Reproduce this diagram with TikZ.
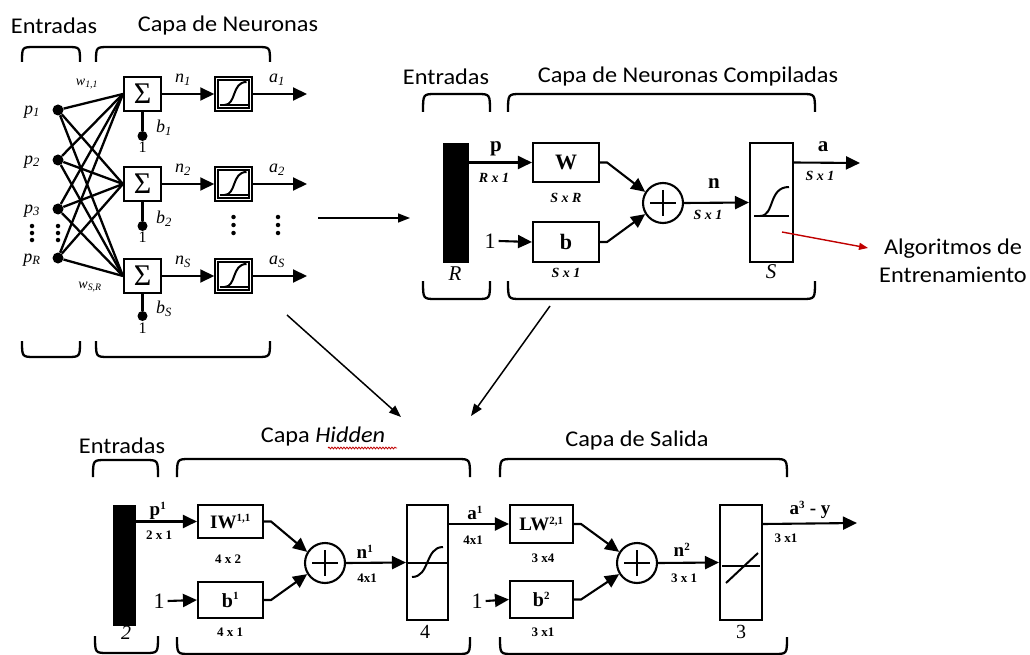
\documentclass[tikz,border=0pt]{standalone}
\usepackage{fontspec}
\setmainfont{Carlito}
\newfontfamily\tms{Liberation Serif}
\newfontfamily\lblf[FakeStretch=1.08]{Carlito}
\usetikzlibrary{arrows.meta,decorations.pathmorphing}
\definecolor{arrred}{RGB}{192,0,0}
\newcommand\brkt[4]{\draw[brk] (#1,#4) .. controls (#1,#3) .. (#1+13,#3) -- (#2-13,#3) .. controls (#2,#3) .. (#2,#4);}
\begin{document}
\begin{tikzpicture}[x=1pt,y=-1pt,
  lbl/.style={font=\lblf\fontsize{22.5}{27}\selectfont, inner sep=0pt},
  box/.style={draw, line width=2.1pt, inner sep=0pt, fill=white},
  tbox/.style={draw, line width=1.5pt, inner sep=0pt, minimum width=37pt, minimum height=34pt},
  sbox/.style={box, minimum width=37pt, minimum height=34pt, font=\tms\fontsize{30}{30}\selectfont},
  wire/.style={line width=2.3pt},
  ln/.style={line width=2.1pt},
  arr/.style={line width=2.1pt, -{Triangle[length=14pt,width=13pt]}},
  thinarr/.style={line width=1.5pt, -{Triangle[length=12pt,width=9pt]}},
  brk/.style={line width=2.3pt},
  dot/.style={circle, fill, inner sep=0pt, minimum size=11pt},
  bdot/.style={circle, fill, inner sep=0pt, minimum size=10pt},
  vdot/.style={circle, fill, inner sep=0pt, minimum size=4.5pt},
  sym/.style={font=\tms\itshape\fontsize{18}{20}\selectfont, inner sep=0pt},
  vec/.style={font=\tms\bfseries\fontsize{21}{21}\selectfont, inner sep=0pt},
  one/.style={font=\tms\fontsize{22}{22}\selectfont, inner sep=0pt},
  dimi/.style={font=\tms\bfseries\itshape\fontsize{14}{15}\selectfont, inner sep=0pt},
  dimb/.style={font=\tms\bfseries\fontsize{13}{14}\selectfont, inner sep=0pt},
  bar/.style={fill=black, draw=black, inner sep=0pt},
  circ/.style={circle, draw, line width=2.1pt, minimum size=40pt, inner sep=0pt},
  crv/.style={line width=2pt},
  sigsmall/.pic={\draw[line width=1.2pt] (-15.5,-14) rectangle (15.5,14);
                 \draw[crv] (-14,11) -- (15,11);
                 \draw[crv] (-9,11) .. controls (3,11) and (-2,-12) .. (13,-12);},
  plus/.pic={\draw[line width=1.8pt] (-13,0) -- (13,0) (0,-13) -- (0,13);}
]
\useasboundingbox (0,0) rectangle (1030,655);

% ================= top-left =================
\node[lbl] (tlE) at (54,26) {Entradas};
\node[lbl] (tlC) at (228,26) {Capa de Neuronas};
\brkt{22}{80}{47}{62}
\brkt{96}{270}{47}{62}
\brkt{22}{80}{357}{341}
\brkt{96}{270}{357}{341}

\node[dot] (p1) at (58,110) {};
\node[dot] (p2) at (58,160) {};
\node[dot] (p3) at (58,209) {};
\node[dot] (pR) at (58,258) {};
\node[sym] (lp1) at (32,112) {p\textsubscript{1}};
\node[sym] (lp2) at (32,162) {p\textsubscript{2}};
\node[sym] (lp3) at (32,211) {p\textsubscript{3}};
\node[sym] (lpR) at (32,260) {p\textsubscript{R}};
\foreach \y in {226,233,240} {
  \node[vdot] (va\y) at (32,\y) {};
  \node[vdot] (vb\y) at (58,\y) {};
}

\node[sbox] (s1) at (142.5,94) {Σ};
\node[sbox] (s2) at (142.5,184) {Σ};
\node[sbox] (s3) at (142.5,276) {Σ};

\foreach \p in {p1,p2,p3,pR} {
  \foreach \s in {s1,s2,s3} {
    \draw[wire] (\p) -- (\s.west);
  }
}
\node[sym, font=\tms\itshape\fontsize{14}{15}\selectfont] (w11) at (87,84) {w\textsubscript{1,1}};
\node[sym, font=\tms\itshape\fontsize{14}{15}\selectfont] (wSR) at (90,287) {w\textsubscript{S,R}};

\node[bdot] (bd1) at (142.5,136) {};
\node[bdot] (bd2) at (142.5,226) {};
\node[bdot] (bd3) at (142.5,316) {};
\draw[ln] (s1.south) -- (bd1);
\draw[ln] (s2.south) -- (bd2);
\draw[ln] (s3.south) -- (bd3);
\node[font=\tms\fontsize{16}{16}\selectfont, inner sep=0pt] (o1) at (142.5,147) {1};
\node[font=\tms\fontsize{16}{16}\selectfont, inner sep=0pt] (o2) at (142.5,237) {1};
\node[font=\tms\fontsize{16}{16}\selectfont, inner sep=0pt] (o3) at (142.5,328) {1};
\node[sym] (lb1) at (164,128) {b\textsubscript{1}};
\node[sym] (lb2) at (164,219) {b\textsubscript{2}};
\node[sym] (lbS) at (164,309) {b\textsubscript{S}};

\node[tbox] (t1) at (233.5,94) {};
\node[tbox] (t2) at (233.5,184) {};
\node[tbox] (t3) at (233.5,276) {};
\pic at (t1) {sigsmall};
\pic at (t2) {sigsmall};
\pic at (t3) {sigsmall};
\draw[arr] (s1.east) -- (t1.west);
\draw[arr] (s2.east) -- (t2.west);
\draw[arr] (s3.east) -- (t3.west);
\node[sym] (ln1) at (183,80) {n\textsubscript{1}};
\node[sym] (ln2) at (183,170) {n\textsubscript{2}};
\node[sym] (lnS) at (183,262) {n\textsubscript{S}};

\coordinate (out1) at (307,94);
\coordinate (out2) at (307,184);
\coordinate (out3) at (307,276);
\draw[arr] (t1.east) -- (out1);
\draw[arr] (t2.east) -- (out2);
\draw[arr] (t3.east) -- (out3);
\node[sym] (la1) at (277,80) {a\textsubscript{1}};
\node[sym] (la2) at (277,170) {a\textsubscript{2}};
\node[sym] (laS) at (277,262) {a\textsubscript{S}};
\foreach \y in {217,225,233} {
  \node[vdot] (vc\y) at (233.5,\y) {};
  \node[vdot] (vd\y) at (278,\y) {};
}

% middle and diagonal arrows
\coordinate (m1) at (318,218);
\coordinate (m2) at (410,218);
\draw[thinarr] (m1) -- (m2);
\coordinate (d1a) at (287,315);
\coordinate (d1b) at (401,417);
\draw[thinarr] (d1a) -- (d1b);
\coordinate (d2a) at (550,306);
\coordinate (d2b) at (471,416);
\draw[thinarr] (d2a) -- (d2b);

% ================= top-right =================
\node[lbl] (trE) at (446,77) {Entradas};
\node[lbl] (trC) at (688,77) {Capa de Neuronas Compiladas};
\brkt{423}{490}{94}{112}
\brkt{508}{815}{94}{112}
\brkt{423}{490}{299}{281}
\brkt{508}{815}{299}{281}

\node[bar, minimum width=25pt, minimum height=119pt] (bar1) at (455.5,202.5) {};
\node[sym, font=\tms\itshape\fontsize{21}{21}\selectfont] (lR) at (455,274) {R};
\node[box, minimum width=66pt, minimum height=39pt, font=\tms\bfseries\fontsize{22}{22}\selectfont] (W) at (566,162.5) {W};
\node[box, minimum width=66pt, minimum height=40pt, font=\tms\bfseries\fontsize{22}{22}\selectfont] (b) at (566,242) {b};
\node[circ] (sum) at (663,203) {};
\pic at (sum) {plus};
\node[box, minimum width=43pt, minimum height=119pt] (T) at (771.5,202.5) {};
\draw[crv] (754,216) -- (789,216);
\draw[crv] (760,216) .. controls (775,216) and (768,187) .. (789,187);

\draw[arr] (bar1.east |- W) -- (W.west);
\node[vec] (lp) at (496,149) {p};
\node[dimi] (dRx1) at (494,178) {R x 1};
\node[dimi] (dSxR) at (566,198) {S x R};
\node[one] (one1) at (490,241) {1};
\draw[arr] (one1.east) ++(3,0) -- (b.west);
\node[dimi] (dSx1a) at (566,273) {S x 1};
\draw[arr] (W.east) -- ++(7,0) -- (sum.148);
\draw[arr] (b.east) -- ++(7,0) -- (sum.212);
\draw[arr] (sum.east) -- (T.west);
\node[vec] (ln) at (714,184) {n};
\node[dimi] (dSx1b) at (708,215) {S x 1};
\coordinate (aout) at (860,163);
\draw[arr] (T.east |- W) -- (aout);
\node[vec] (la) at (823,147) {a};
\node[dimi] (dSx1c) at (820,176) {S x 1};
\node[sym, font=\tms\itshape\fontsize{21}{21}\selectfont] (lS) at (771,272) {S};

\coordinate (ra) at (782,232);
\coordinate (rb) at (868,248);
\node[lbl, align=center, font=\lblf\fontsize{22.5}{28}\selectfont] (alg) at (953,261) {Algoritmos de\\Entrenamiento};
\draw[line width=1.4pt, arrred, -{Triangle[length=9pt,width=7pt]}] (ra) -- (rb);

% ================= bottom =================
\node[lbl] (bE) at (122,446) {Entradas};
\node[lbl] (bH) at (323,436) {Capa \textit{Hidden}};
\draw[arrred, line width=0.8pt, decorate, decoration={snake, amplitude=0.9pt, segment length=3pt}] (328,448) -- (397,448);
\node[lbl] (bS) at (637,440) {Capa de Salida};
\brkt{93}{158}{460}{477}
\brkt{177}{470}{459}{477}
\brkt{500}{787}{459}{477}
\brkt{95}{158}{653}{636}
\brkt{177}{470}{654}{637}
\brkt{500}{787}{654}{637}

\node[bar, minimum width=22pt, minimum height=120pt] (bar2) at (124,565) {};
\node[sym, font=\tms\itshape\fontsize{20}{20}\selectfont] (l2) at (126,633) {2};
\node[box, minimum width=65pt, minimum height=33pt, font=\tms\bfseries\fontsize{19}{19}\selectfont] (IW) at (230.5,521.5) {IW\textsuperscript{\fontsize{11}{11}\selectfont 1,1}};
\node[box, minimum width=65pt, minimum height=36pt, font=\tms\bfseries\fontsize{20}{20}\selectfont] (b1) at (230.5,600) {b\textsuperscript{\fontsize{11}{11}\selectfont 1}};
\draw[arr] (bar2.east |- IW) -- (IW.west);
\node[vec, font=\tms\bfseries\fontsize{19}{19}\selectfont] (lp1b) at (158,511) {p\textsuperscript{\fontsize{11}{11}\selectfont 1}};
\node[dimb] (d2x1) at (159,535) {2 x 1};
\node[dimb] (d4x2) at (228,559) {4 x 2};
\node[one] (oneb1) at (159,601) {1};
\draw[arr] (oneb1.east) ++(3,0) -- (b1.west);
\node[dimb] (d4x1a) at (230,632) {4 x 1};
\node[circ] (sum1) at (325,563) {};
\pic at (sum1) {plus};
\draw[arr] (IW.east) -- ++(7,0) -- (sum1.148);
\draw[arr] (b1.east) -- ++(7,0) -- (sum1.212);
\node[box, minimum width=41pt, minimum height=115pt] (H) at (427.5,562.5) {};
\draw[crv] (407,563) -- (448,563);
\draw[crv] (412,577) .. controls (430,577) and (425,547) .. (443,547);
\draw[arr] (sum1.east) -- (H.west);
\node[vec, font=\tms\bfseries\fontsize{19}{19}\selectfont] (lnb1) at (365,552) {n\textsuperscript{\fontsize{11}{11}\selectfont 1}};
\node[dimb] (d4x1b) at (367,578) {4x1};
\node[font=\tms\fontsize{20}{20}\selectfont, inner sep=0pt] (l4) at (425,632) {4};

\node[box, minimum width=63pt, minimum height=38pt, font=\tms\bfseries\fontsize{19}{19}\selectfont] (LW) at (541.5,524) {LW\textsuperscript{\fontsize{11}{11}\selectfont 2,1}};
\node[box, minimum width=63pt, minimum height=37pt, font=\tms\bfseries\fontsize{20}{20}\selectfont] (b2) at (541.5,599.5) {b\textsuperscript{\fontsize{11}{11}\selectfont 2}};
\draw[arr] (H.east |- LW) -- (LW.west);
\node[vec, font=\tms\bfseries\fontsize{19}{19}\selectfont] (lab1) at (475,513) {a\textsuperscript{\fontsize{11}{11}\selectfont 1}};
\node[dimb] (d4x1c) at (473,540) {4x1};
\node[dimb] (d3x4) at (543,558) {3 x4};
\node[one] (oneb2) at (477,601) {1};
\draw[arr] (oneb2.east) ++(3,0) -- (b2.west);
\node[dimb] (d3x1a) at (543,632) {3 x1};
\node[circ] (sum2) at (637,563) {};
\pic at (sum2) {plus};
\draw[arr] (LW.east) -- ++(7,0) -- (sum2.148);
\draw[arr] (b2.east) -- ++(7,0) -- (sum2.212);
\node[box, minimum width=42pt, minimum height=115pt] (O) at (741,562.5) {};
\draw[crv] (722,566) -- (760,566);
\draw[crv] (726,583) -- (758,553);
\draw[arr] (sum2.east) -- (O.west);
\node[vec, font=\tms\bfseries\fontsize{19}{19}\selectfont] (lnb2) at (682,550) {n\textsuperscript{\fontsize{11}{11}\selectfont 2}};
\node[dimb] (d3x1b) at (684,578) {3 x 1};
\node[font=\tms\fontsize{20}{20}\selectfont, inner sep=0pt] (l3) at (741,632) {3};
\coordinate (yout) at (857,523);
\draw[arr] (O.east |- LW) -- (yout);
\node[vec, font=\tms\bfseries\fontsize{19}{19}\selectfont] (lay) at (810,510) {a\textsuperscript{\fontsize{11}{11}\selectfont 3} - y};
\node[dimb] (d3x1c) at (786,538) {3 x1};
\end{tikzpicture}
\end{document}
